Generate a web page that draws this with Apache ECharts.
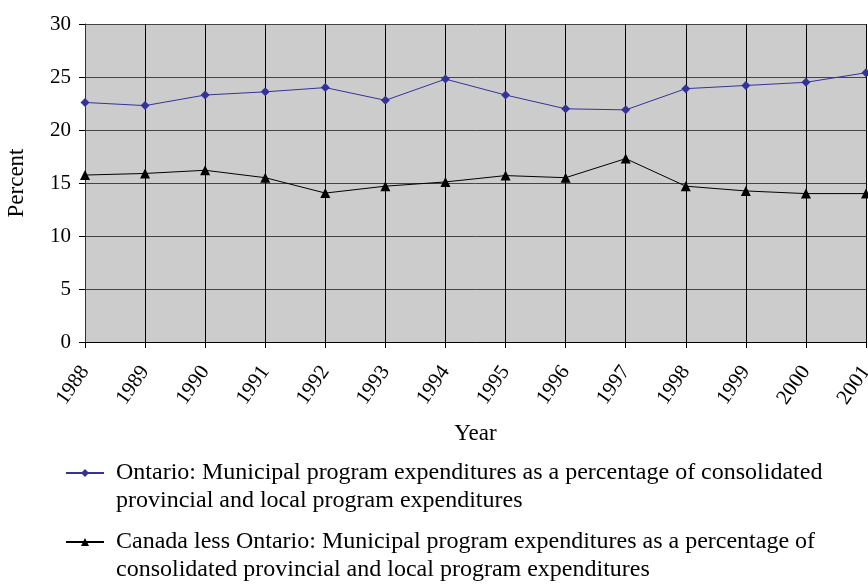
<!DOCTYPE html>
<html>
<head>
<meta charset="utf-8">
<script src="https://cdn.jsdelivr.net/npm/echarts@6/dist/echarts.min.js"></script>
<style>
  html, body { margin: 0; padding: 0; background: #fff; }
  #chart { width: 868px; height: 584px; }
</style>
</head>
<body>
<div id="chart"></div>
<script>
var years = ['1988', '1989', '1990', '1991', '1992', '1993', '1994', '1995', '1996', '1997', '1998', '1999', '2000', '2001'];
var ontario = [22.6, 22.3, 23.3, 23.6, 24.0, 22.8, 24.8, 23.3, 22.0, 21.9, 23.9, 24.2, 24.5, 25.4];
var restOfCanada = [15.75, 15.9, 16.2, 15.5, 14.05, 14.7, 15.1, 15.7, 15.5, 17.3, 14.7, 14.25, 14.0, 14.0];
var ontarioName = 'Ontario: Municipal program expenditures as a percentage of consolidated\nprovincial and local program expenditures';
var restName = 'Canada less Ontario: Municipal program expenditures as a percentage of\nconsolidated provincial and local program expenditures';

var serif = '"Liberation Serif", "Times New Roman", serif';

// one legend block per series; a blank first line keeps the first text line level with the icon
function legendBlock(name, top) {
    return {
        orient: 'vertical',
        left: 60,
        top: top,
        itemWidth: 38,
        itemHeight: 10,
        data: [name],
        formatter: function (n) { return ' \n' + n; },
        textStyle: {
            fontFamily: serif,
            fontSize: 24,
            lineHeight: 28,
            color: '#000',
            padding: [0, 0, 0, 7]
        }
    };
}

window.onload = function () {
    var myChart = echarts.init(document.getElementById('chart'));

    var option = {
        backgroundColor: '#fff',
        animation: false,
        textStyle: { fontFamily: serif, color: '#000' },
        grid: {
            left: 85,
            right: 2,
            top: 24,
            bottom: 242,
            outerBoundsMode: 'none',
            show: true,
            backgroundColor: '#cccccc',
            borderWidth: 0
        },
        legend: [
            legendBlock(ontarioName, 426),
            legendBlock(restName, 495)
        ],
        xAxis: {
            type: 'category',
            boundaryGap: false,
            data: years,
            name: 'Year',
            nameLocation: 'middle',
            nameGap: 80,
            nameTextStyle: { fontFamily: serif, fontSize: 23, color: '#000' },
            axisLine: { show: true, lineStyle: { color: '#000', width: 1 } },
            axisTick: { show: true, length: 6, alignWithLabel: true, lineStyle: { color: '#000' } },
            axisLabel: {
                interval: 0,
                rotate: 55,
                margin: 26,
                fontFamily: serif,
                fontSize: 21,
                color: '#000'
            },
            splitLine: { show: true, lineStyle: { color: '#000', width: 1 } }
        },
        yAxis: {
            type: 'value',
            min: 0,
            max: 30,
            interval: 5,
            name: 'Percent',
            nameLocation: 'middle',
            nameGap: 57,
            nameTextStyle: { fontFamily: serif, fontSize: 23, color: '#000' },
            axisLine: { show: true, lineStyle: { color: '#333', width: 1 } },
            axisTick: { show: true, length: 6, lineStyle: { color: '#000' } },
            axisLabel: { margin: 14, fontFamily: serif, fontSize: 21, color: '#000' },
            splitLine: { show: true, lineStyle: { color: '#444', width: 1 } }
        },
        series: [
            {
                name: ontarioName,
                type: 'line',
                data: ontario,
                symbol: 'diamond',
                symbolSize: 9,
                lineStyle: { color: '#333399', width: 1 },
                itemStyle: { color: '#333399' }
            },
            {
                name: restName,
                type: 'line',
                data: restOfCanada,
                symbol: 'triangle',
                symbolSize: 10,
                lineStyle: { color: '#000', width: 1 },
                itemStyle: { color: '#000' }
            }
        ]
    };

    myChart.setOption(option);
};
</script>
</body>
</html>
